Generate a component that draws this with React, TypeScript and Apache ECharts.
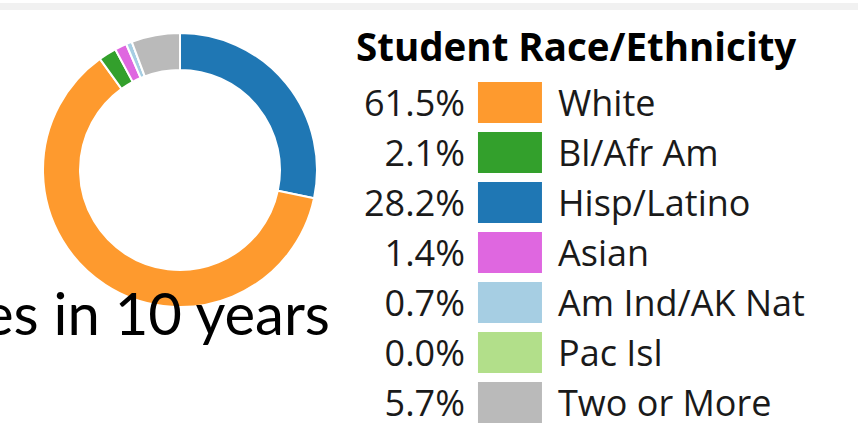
import React, { useEffect, useRef } from "react";
import * as echarts from "echarts";

const categories = ["White", "Bl/Afr Am", "Hisp/Latino", "Asian", "Am Ind/AK Nat", "Pac Isl", "Two or More"];
const percents = [61.5, 2.1, 28.2, 1.4, 0.7, 0.0, 5.7];
const colors = ["#fe9a2e", "#33a02c", "#1f77b4", "#df67e0", "#a6cee3", "#b2df8a", "#bababa"];
const pieOrder = [2, 0, 1, 3, 4, 5, 6];
const titleText = "Student Race/Ethnicity";
const captionText = "es in 10 years";

export default function App() {
  const ref = useRef<HTMLDivElement>(null);
  useEffect(() => {
    if (!ref.current) return;
    const chart = echarts.init(ref.current, undefined, { renderer: "svg" });
    const pctOf: Record<string, string> = {};
    categories.forEach((c, i) => (pctOf[c] = percents[i].toFixed(1) + "%"));
    const data = pieOrder.map((i) => ({
      name: categories[i],
      value: percents[i],
      itemStyle: { color: colors[i] },
    }));
    const legendCommon = {
      data: categories,
      orient: "vertical",
      top: 80,
      height: 400,
      padding: 0,
      itemHeight: 43,
      itemGap: 5,
      icon: "rect",
      selectedMode: false,
    };
    chart.setOption({
      animation: false,
      backgroundColor: "#ffffff",
      title: {
        text: titleText,
        left: 356,
        top: 26,
        padding: 0,
        textStyle: { fontFamily: "Open Sans", fontWeight: "bold", fontSize: 38.5, color: "#000" },
      },
      legend: [
        {
          ...legendCommon,
          align: "right",
          left: 364,
          itemWidth: 66,
          formatter: (n: string) => pctOf[n],
          textStyle: { fontFamily: "Open Sans", fontSize: 36, color: "#1a1a1a", lineHeight: 43, height: 43, padding: [0, 7, 0, 0] },
        },
        {
          ...legendCommon,
          align: "left",
          left: 552,
          itemWidth: 0,
          itemStyle: { opacity: 0 },
          textStyle: { fontFamily: "Open Sans", fontSize: 36, color: "#1a1a1a", lineHeight: 43, height: 43 },
        },
      ],
      graphic: [
        { type: "rect", shape: { x: 0, y: 3, width: 858, height: 7 }, style: { fill: "#f1f1f1" }, z: 0 },
        {
          type: "text",
          x: 330,
          y: 341,
          z: 100,
          style: {
            text: captionText,
            fill: "#000",
            font: "58px Lato",
            textAlign: "right",
            textVerticalAlign: "bottom",
          },
        },
      ],
      series: [
        {
          type: "pie",
          center: [180, 170],
          radius: [100, 137],
          startAngle: 90,
          clockwise: true,
          label: { show: false },
          labelLine: { show: false },
          silent: true,
          itemStyle: { borderColor: "#fff", borderWidth: 2 },
          data,
        },
      ],
    });
    return () => chart.dispose();
  }, []);
  return (
    <div
      ref={ref}
      style={{ position: "fixed", left: 0, top: 0, width: 858, height: 425, background: "#fff" }}
    />
  );
}
